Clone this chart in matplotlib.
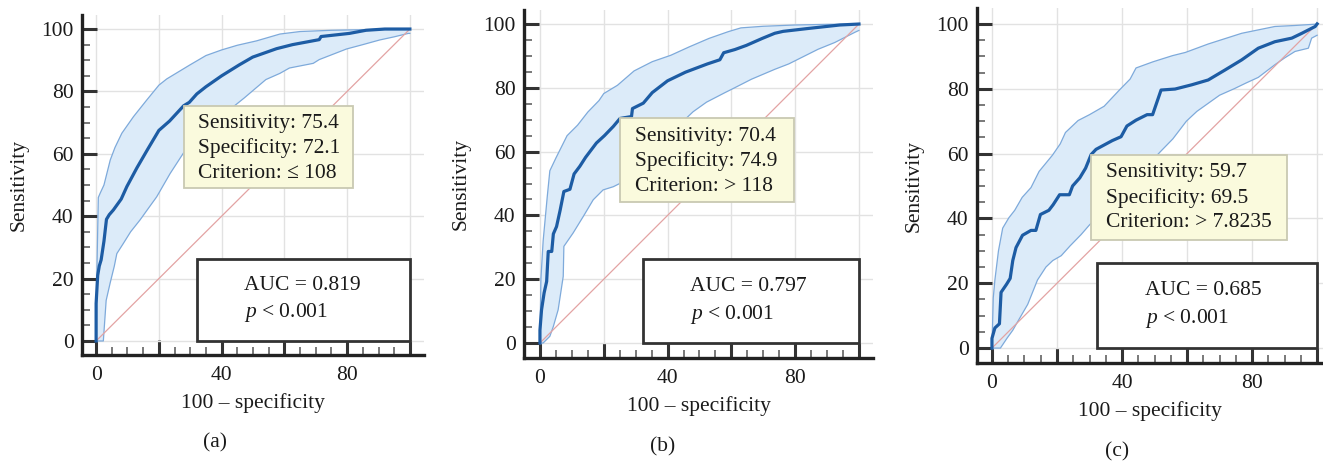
import numpy as np
import matplotlib
matplotlib.use("Agg")
import matplotlib.pyplot as plt
from matplotlib.patches import Rectangle

plt.rcParams['font.family'] = ['Liberation Serif', 'DejaVu Serif']
plt.rcParams['mathtext.fontset'] = 'custom'
plt.rcParams['mathtext.rm'] = 'Liberation Serif'
plt.rcParams['mathtext.it'] = 'Liberation Serif:italic'

# panel (a): ROC curve, upper and lower confidence bounds
a_fpr = [0, 0, 0.5, 1.0, 1.6, 2.5, 3.3, 4.2, 5.5, 8.0, 9.8, 13.0, 16.4, 20.0, 23.4, 27.9, 29.7, 32.1, 35.0,
         40.0, 45.6, 49.9, 57.5, 62.6, 71.1, 71.7, 80.7, 86.0, 92.0, 100]
a_sens = [0, 12, 21, 24, 26, 32, 39, 40.5, 42, 45.5, 49.5, 55.5, 61.4, 67.5, 70.5, 75.4, 76.5, 79.2, 81.5,
          85.0, 88.5, 91.0, 93.7, 95.0, 96.6, 97.6, 98.6, 99.6, 100, 100]
a_up_x = [0, 0.3, 0.7, 1.3, 2.5, 4.5, 6.0, 8.2, 11.9, 16.1, 20.0, 22.5, 29.9, 35.0, 40.0, 45.0, 51.1, 58.6,
          65.0, 75.0, 85.0, 100]
a_up_y = [0, 25, 46, 47.4, 50, 58, 62, 66.6, 71.9, 77.2, 82, 84, 88.5, 91.5, 93.3, 94.8, 96.2, 98.4,
          99.2, 99.6, 99.8, 100]
a_lo_x = [0, 2.3, 3.2, 4.5, 5.8, 6.6, 8.7, 11.0, 14.0, 17.0, 19.3, 23.6, 27.8, 32.0, 38.0, 43.0, 47.2, 54.1,
          58.6, 61.6, 69.2, 71.1, 79.8, 85.0, 90.4, 95.0, 99.5, 100]
a_lo_y = [0, 0, 13, 18.7, 24, 28, 31.3, 35, 38.8, 43, 46.2, 53.7, 60.2, 65, 70.5, 74.5, 77.9, 83.8,
          85.8, 87.5, 89, 90.2, 93.6, 95, 96.5, 97.5, 98.6, 98.6]

# panel (b)
b_fpr = [0, 0, 0.5, 1.3, 2.1, 2.6, 3.7, 4.2, 5.2, 6.3, 7.5, 9.4, 10.7, 12.5, 14.3, 17.7, 20.2, 23.0, 25.1,
         28.7, 29.0, 32.4, 35.2, 40.0, 45.6, 52.5, 56.4, 57.6, 61.1, 64.7, 69.7, 73.6, 76.2, 84.0, 94.0, 100]
b_sens = [0, 4, 10.4, 15.7, 19.3, 28.7, 28.7, 34.2, 36.5, 41.5, 47.5, 48.2, 53, 55.4, 58.2, 62.7, 65, 67.9, 70.4,
          71, 73.5, 75.2, 78.5, 82.2, 84.9, 87.5, 88.8, 91, 92, 93.3, 95.5, 97.1, 97.7, 98.6, 99.7, 100]
b_up_x = [0, 0.3, 1.0, 2.3, 3.1, 5.0, 8.5, 11.8, 15.0, 18.5, 20.0, 24.3, 29.5, 35.2, 41.0, 46.7, 53.0, 59.0,
          63.0, 70.0, 80.0, 90.0, 100]
b_up_y = [0, 20, 32, 46, 54, 58, 65, 68.3, 72.4, 76, 78.2, 80.8, 85.3, 88.2, 90.2, 92.8, 95.5, 97.6,
          98.8, 99.3, 99.7, 99.9, 100]
b_lo_x = [0, 1.0, 3.1, 4.2, 5.7, 7.3, 7.5, 10.4, 13.6, 16.7, 19.8, 23.0, 25.0, 30.0, 36.0, 41.0, 45.9, 48.0,
          52.2, 58.0, 61.0, 66.3, 73.6, 78.0, 82.0, 87.2, 92.4, 98.7, 100]
b_lo_y = [0, 0, 2.1, 5.2, 10.4, 20.9, 30.3, 34.5, 39.7, 44.9, 48, 49, 50, 56, 62, 66.5, 70.5, 72.5,
          75.5, 78.5, 80, 82.7, 85.8, 87.5, 89.5, 92.1, 94.2, 97.4, 98]

# panel (c)
c_fpr = [0, 0, 0.9, 2.3, 2.8, 4.5, 5.6, 6.4, 7.4, 9.4, 12.0, 13.5, 14.9, 17.5, 18.8, 20.8, 23.8, 24.8, 27.0,
         28.8, 30.5, 32.0, 37.0, 39.7, 41.5, 44.3, 47.7, 49.4, 52.0, 56.3, 61.4, 66.5, 71.7, 76.8, 81.9, 87.0,
         92.2, 95.3, 99.4, 100]
c_sens = [0, 3, 6.2, 7.5, 17.2, 19.7, 21.5, 27, 31, 34.8, 36.3, 36.3, 41.2, 42.5, 44.2, 47.3, 47.3, 50, 52.5,
          55.5, 59.7, 61.3, 64, 65.2, 68.5, 70.3, 72, 72, 79.6, 79.9, 81.2, 82.7, 85.8, 88.9, 92.5, 94.5,
          95.6, 97.1, 99.2, 100]
c_up_x = [0, 0.4, 0.9, 2.0, 3.3, 5.2, 7.0, 9.3, 12.0, 14.5, 18.6, 21.0, 22.6, 26.5, 30.0, 34.5, 39.0, 42.5,
          44.3, 49.5, 55.5, 59.5, 66.5, 76.8, 87.0, 93.0, 99.4, 100]
c_up_y = [0, 15.5, 21, 30, 37, 40.2, 42.5, 46.5, 49.5, 54.5, 59.5, 63, 66.5, 70.2, 72, 74.6, 79.4, 83,
          86.4, 88.3, 90.2, 91.2, 93.8, 97.1, 99.2, 99.5, 99.9, 100]
c_lo_x = [0, 2.6, 4.6, 6.4, 8.4, 11.0, 14.0, 16.6, 18.7, 21.3, 24.0, 27.4, 30.0, 36.0, 42.0, 47.0, 52.0, 55.6,
          59.8, 63.0, 66.5, 70.0, 74.7, 78.0, 81.9, 87.0, 90.0, 93.2, 97.3, 98.3, 100]
c_lo_y = [0, 0, 3, 5.5, 9, 13.5, 21, 25, 27, 28.5, 31.5, 35, 38, 44, 50, 55.5, 60.8, 64.5,
          70, 73, 75.5, 78, 80.1, 81.7, 83.5, 87.4, 89.5, 91.5, 92.5, 95.6, 96.5]

sens_vals = [75.4, 70.4, 59.7]
spec_vals = [72.1, 74.9, 69.5]
criteria = ['\u2264 108', '> 118', '> 7.8235']
auc_vals = [0.819, 0.797, 0.685]
captions = ['(a)', '(b)', '(c)']

W, H = 1323, 465
fig = plt.figure(figsize=(W / 100, H / 100), dpi=100)

# axes boxes in pixels: left, right, top, bottom ; limits
boxes = [(82, 424, 15, 355), (524, 873, 10, 358), (977, 1323, 8, 363)]
xlims = [(-4.5, 104.5), (-5.0, 104.4), (-4.6, 101.8)]
ylims = [(-4.5, 104.5), (-4.7, 104.4), (-4.6, 104.9)]
sens_box_w = [54.0, 54.5, 60.3]
caption_pos = [(215, 443), (663, 447), (1117, 452)]

curves = [(a_fpr, a_sens, a_up_x, a_up_y, a_lo_x, a_lo_y),
          (b_fpr, b_sens, b_up_x, b_up_y, b_lo_x, b_lo_y),
          (c_fpr, c_sens, c_up_x, c_up_y, c_lo_x, c_lo_y)]

fs = 15.5
dark = '#1a1a1a'
for i in range(3):
    l, r, t, b = boxes[i]
    ax = fig.add_axes([l / W, 1 - b / H, (r - l) / W, (b - t) / H])
    fx, fy, ux, uy, lx, ly = curves[i]

    # confidence band
    ax.fill(np.concatenate([ux, lx[::-1]]), np.concatenate([uy, ly[::-1]]),
            color='#dcebf9', lw=0, zorder=1)
    ax.plot(ux, uy, color='#7eaadb', lw=0.9, zorder=2)
    ax.plot(lx, ly, color='#7eaadb', lw=0.9, zorder=2)
    ax.plot([0, 100], [0, 100], color='#e3a3a3', lw=0.9, zorder=2)
    ax.plot(fx, fy, color='#1d5ca4', lw=2.3, zorder=3)

    ax.set_xlim(*xlims[i])
    ax.set_ylim(*ylims[i])
    ax.set_xticks([0, 20, 40, 60, 80, 100])
    ax.set_xticklabels(['0', '', '40', '', '80', ''])
    ax.set_yticks([0, 20, 40, 60, 80, 100])
    ax.set_xticks(np.arange(0, 101, 5), minor=True)
    ax.set_yticks(np.arange(0, 101, 5), minor=True)
    ax.tick_params(which='major', direction='in', length=11, width=2.2, color='#333333',
                   labelsize=fs, labelcolor=dark, pad=6)
    ax.tick_params(axis='x', which='major', pad=8)
    ax.tick_params(which='minor', direction='in', length=6, width=1.1, color='#555555')
    for s in ['top', 'right']:
        ax.spines[s].set_visible(False)
    for s in ['left', 'bottom']:
        ax.spines[s].set_linewidth(2.4)
        ax.spines[s].set_color('#222222')
    ax.grid(True, which='major', color='#e2e2e2', lw=1.0)
    ax.set_axisbelow(True)

    ax.set_xlabel('100 \u2013 specificity', fontsize=fs, color=dark, labelpad=6)
    ax.set_ylabel('Sensitivity', fontsize=fs, color=dark, labelpad=9)

    # criterion box, anchored at the optimal cut-off point
    cx, cy = 100 - spec_vals[i], sens_vals[i]
    ax.add_patch(Rectangle((cx, cy - 26.3), sens_box_w[i], 26.3, facecolor='#fafadd',
                           edgecolor='#c9c9b2', lw=1.3, zorder=5))
    ax.text(cx + 4.6, cy - 2.6,
            f'Sensitivity: {sens_vals[i]}\nSpecificity: {spec_vals[i]}\nCriterion: {criteria[i]}',
            ha='left', va='top', fontsize=fs, color=dark, linespacing=1.38, zorder=6)

    # AUC box
    ax.add_patch(Rectangle((32.3, 0), 67.7, 26.3, facecolor='white',
                           edgecolor='#333333', lw=2.0, zorder=5))
    ax.text(47.0, 17.8, f'AUC = {auc_vals[i]}', ha='left', va='center', fontsize=fs,
            color=dark, zorder=6)
    ax.text(47.0, 9.0, '$p$ < 0.001', ha='left', va='center', fontsize=fs,
            color=dark, zorder=6)

    fig.text(caption_pos[i][0] / W, 1 - caption_pos[i][1] / H, captions[i],
             ha='center', va='center', fontsize=fs, color=dark)

fig.savefig('out.png', dpi=100)
